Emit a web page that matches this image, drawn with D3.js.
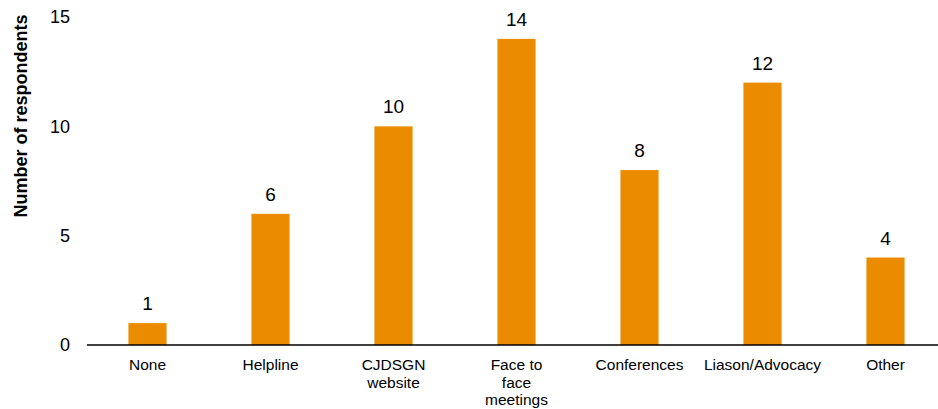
<!DOCTYPE html>
<html>
  <head>
    <meta charset="utf-8">
    <title>respondents</title>
    <style>
      body {
        margin: 0;
        background-color: white;
      }
      text {
        font-family: "Liberation Sans", Arial, sans-serif;
        fill: #000;
      }
    </style>
  </head>
  <body>
    <div id="chart"></div>

    <script src="https://d3js.org/d3.v7.min.js"></script>
    <script>
    var categories = ["None", "Helpline", "CJDSGN website", "Face to face meetings", "Conferences", "Liason/Advocacy", "Other"];
    var labelLines = [["None"], ["Helpline"], ["CJDSGN", "website"], ["Face to", "face", "meetings"], ["Conferences"], ["Liason/Advocacy"], ["Other"]];
    var values = [1, 6, 10, 14, 8, 12, 4];
    var yTicks = [0, 5, 10, 15];

    var width = 938;
    var height = 409;
    var padding = {top: 17, right: -9, bottom: 64, left: 86};

    var svg = d3.select("#chart").append("svg")
      .attr("width", width)
      .attr("height", height);

    var x = d3.scaleBand()
      .domain(categories)
      .range([padding.left, width - padding.right])
      .paddingInner(0.69)
      .paddingOuter(0.345);

    var y = d3.scaleLinear()
      .domain([0, 15])
      .range([height - padding.bottom, padding.top]);

    // bars
    svg.selectAll("rect.bar")
      .data(values)
      .enter()
      .append("rect")
      .attr("class", "bar")
      .attr("x", function(d, i) { return x(categories[i]); })
      .attr("y", function(d) { return y(d); })
      .attr("width", x.bandwidth())
      .attr("height", function(d) { return y(0) - y(d); })
      .attr("fill", "#eb8c00");

    // value labels
    svg.selectAll("text.val")
      .data(values)
      .enter()
      .append("text")
      .attr("class", "val")
      .attr("x", function(d, i) { return x(categories[i]) + x.bandwidth() / 2; })
      .attr("y", function(d) { return y(d) - 13; })
      .attr("text-anchor", "middle")
      .style("font-size", "19px")
      .text(function(d) { return d; });

    // x axis line
    svg.append("line")
      .attr("x1", padding.left + 1)
      .attr("x2", width)
      .attr("y1", y(0))
      .attr("y2", y(0))
      .attr("stroke", "#000")
      .attr("stroke-width", 1.5);

    // category labels
    var cat = svg.selectAll("text.cat")
      .data(labelLines)
      .enter()
      .append("text")
      .attr("class", "cat")
      .attr("text-anchor", "middle")
      .style("font-size", "15.5px")
      .attr("transform", function(d, i) {
        return "translate(" + (x(categories[i]) + x.bandwidth() / 2) + "," + (y(0) + 25) + ")";
      });
    cat.selectAll("tspan")
      .data(function(d) { return d; })
      .enter()
      .append("tspan")
      .attr("x", 0)
      .attr("dy", function(d, i) { return i === 0 ? 0 : 17.5; })
      .text(function(d) { return d; });

    // y tick labels
    svg.selectAll("text.tick")
      .data(yTicks)
      .enter()
      .append("text")
      .attr("class", "tick")
      .attr("x", 70)
      .attr("y", function(d) { return y(d); })
      .attr("dy", "0.35em")
      .attr("text-anchor", "end")
      .style("font-size", "18px")
      .text(function(d) { return d; });

    // y title
    svg.append("text")
      .attr("transform", "translate(27," + 116 + ") rotate(-90)")
      .attr("text-anchor", "middle")
      .style("font-size", "18px")
      .style("font-weight", "bold")
      .text("Number of respondents");
    </script>
  </body>
</html>
